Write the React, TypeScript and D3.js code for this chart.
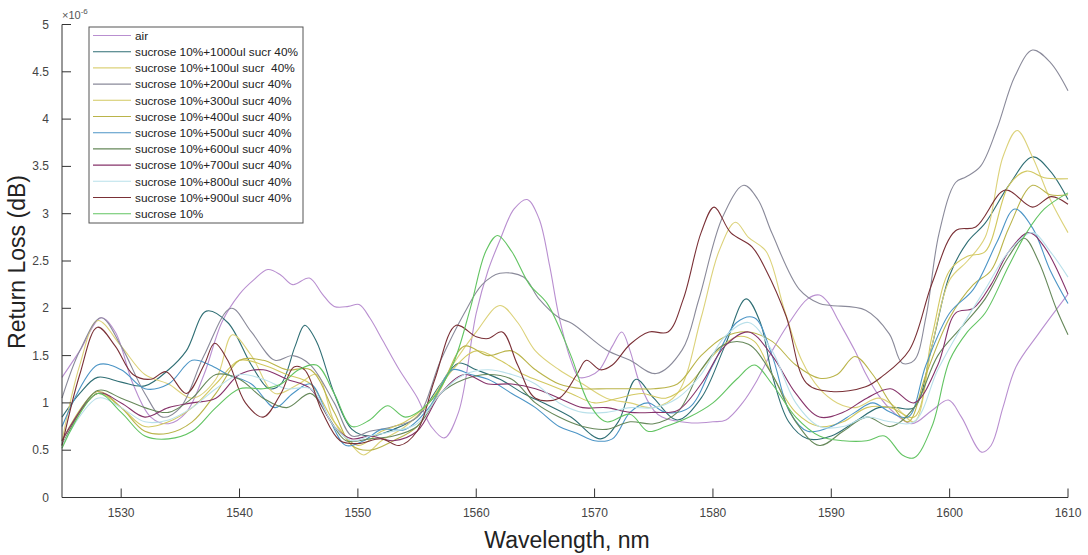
import React from "react";
import * as d3 from "d3";

type P = [number, number];

const air: P[] = [[1525,1.27],[1526.5,1.55],[1528.3,1.9],[1529.5,1.75],[1531,1.2],[1532.5,0.85],[1534,0.78],[1535.5,0.9],[1537,1.3],[1538.5,1.85],[1540,2.15],[1541.2,2.3],[1542.4,2.41],[1543.5,2.35],[1544.5,2.25],[1545.9,2.32],[1547,2.15],[1548,2.02],[1549.2,2.02],[1550.1,2.04],[1551,1.9],[1552.1,1.66],[1553.5,1.35],[1555,1.06],[1556.2,0.75],[1557.3,0.63],[1558.5,0.9],[1560,1.95],[1561,2.4],[1562,2.72],[1563.2,3.05],[1564.3,3.15],[1565.3,2.95],[1566.2,2.45],[1567,1.91],[1568,1.45],[1568.7,1.27],[1569.5,1.28],[1570.4,1.35],[1571.5,1.6],[1572.3,1.75],[1573,1.55],[1573.8,1.21],[1575,0.92],[1575.7,0.85],[1578,0.79],[1580,0.8],[1581.1,0.82],[1582.5,1.0],[1583.6,1.21],[1585,1.55],[1586.4,1.84],[1588,2.1],[1589,2.14],[1589.8,2.05],[1590.6,1.87],[1592,1.55],[1592.9,1.31],[1594,1.08],[1595.1,0.92],[1596.8,0.78],[1598.5,0.92],[1599.9,1.03],[1601,0.85],[1602.7,0.48],[1603.5,0.55],[1604.5,0.95],[1605.6,1.38],[1607.5,1.73],[1610,2.15]];

const s1000: P[] = [[1525,0.85],[1526.5,1.1],[1528,1.27],[1530,1.22],[1532,1.18],[1534,1.35],[1535.5,1.55],[1537.2,1.97],[1539,1.85],[1541,1.4],[1542.5,1.15],[1543.5,1.2],[1544.7,1.6],[1545.5,1.82],[1546.5,1.65],[1548,1.1],[1549.5,0.72],[1551,0.65],[1553,0.72],[1555,0.85],[1557,1.2],[1558.5,1.42],[1560,1.35],[1562,1.25],[1564,1.1],[1566,0.98],[1568,0.85],[1570.5,0.62],[1572,0.8],[1573.5,1.25],[1575,1.05],[1577,0.82],[1579,1.05],[1581,1.6],[1582.8,2.1],[1584,1.85],[1585,1.3],[1586.4,0.8],[1588,0.62],[1590,0.65],[1592,0.8],[1594,0.95],[1595.5,0.95],[1597,0.95],[1598.5,1.6],[1600,2.35],[1601.5,2.7],[1603,2.9],[1605,3.3],[1607,3.6],[1608.5,3.45],[1610,3.15]];

const s100: P[] = [[1525,0.6],[1526.5,1.4],[1528,1.87],[1530,1.6],[1532,1.3],[1534,1.2],[1536,1.05],[1538,1.25],[1539.4,1.72],[1541,1.5],[1543,1.1],[1545,1.2],[1546.5,1.3],[1548,0.8],[1549.5,0.55],[1550.5,0.45],[1552,0.6],[1554,0.75],[1556,1.0],[1558,1.4],[1560,1.75],[1562,2.03],[1563.5,1.85],[1565,1.55],[1567,1.35],[1569,1.2],[1571,1.05],[1573,1.0],[1575,0.95],[1577,1.1],[1579,1.9],[1580.5,2.6],[1581.9,2.91],[1583,2.75],[1584.5,2.6],[1586,2.0],[1587.5,1.45],[1589,1.15],[1590.5,1.0],[1592,0.95],[1594,1.05],[1595.5,0.95],[1597,0.8],[1598.5,1.6],[1600,2.3],[1601.5,2.5],[1603,2.75],[1604.5,3.6],[1605.7,3.88],[1607,3.6],[1608.5,3.15],[1610,2.8]];

const s200: P[] = [[1525,1.05],[1526.5,1.55],[1528.3,1.9],[1530,1.6],[1532,1.1],[1533.5,0.85],[1535,0.95],[1537,1.5],[1539.3,2.0],[1541,1.75],[1543,1.45],[1544.5,1.5],[1546,1.4],[1548,1.0],[1549.5,0.65],[1551,0.7],[1553,0.75],[1555,0.85],[1557,1.45],[1559,1.95],[1560.5,2.25],[1562,2.37],[1564,2.33],[1565.3,2.1],[1567,1.9],[1568.1,1.84],[1571,1.56],[1573,1.45],[1575.2,1.31],[1577.4,1.56],[1578.8,2.09],[1580.8,2.96],[1582.6,3.3],[1583.8,3.15],[1585,2.79],[1587.3,2.2],[1589,2.05],[1590,2.03],[1592.9,1.98],[1594.9,1.73],[1596,1.42],[1597,1.45],[1598,1.91],[1599.1,2.79],[1600.5,3.33],[1601.4,3.39],[1602.6,3.5],[1604,3.9],[1605.5,4.45],[1607,4.73],[1608.5,4.6],[1610,4.3]];

const s300: P[] = [[1525,0.55],[1528,1.1],[1530,0.95],[1532,0.75],[1534,0.8],[1536,0.95],[1538,1.2],[1540,1.45],[1542,1.4],[1544,1.3],[1546,1.2],[1548,0.8],[1550,0.55],[1552,0.7],[1554,0.8],[1556,1.0],[1558,1.35],[1560,1.55],[1562,1.45],[1564,1.3],[1566,1.2],[1568,1.1],[1570,1.0],[1572,1.05],[1574,1.1],[1576,1.05],[1578,1.2],[1580,1.5],[1582,1.7],[1583.5,1.65],[1585,1.3],[1587,0.9],[1589,0.75],[1591,0.8],[1593,0.95],[1595,0.95],[1597,0.85],[1598.5,1.7],[1600,2.4],[1601.5,2.55],[1603,2.6],[1605,3.3],[1606.5,3.45],[1608,3.38],[1610,3.37]];

const s400: P[] = [[1525,0.6],[1528,1.12],[1530,0.95],[1532,0.7],[1534,0.68],[1536,0.8],[1538,1.1],[1540,1.45],[1542,1.45],[1544,1.35],[1546,1.35],[1548,0.9],[1549.5,0.55],[1551,0.5],[1553,0.6],[1555,0.75],[1557,1.15],[1559,1.6],[1561,1.5],[1563,1.55],[1565,1.35],[1567,1.2],[1569,1.15],[1571,1.15],[1573,1.15],[1575,1.15],[1577,1.2],[1579,1.5],[1581,1.7],[1583,1.75],[1585,1.65],[1587,1.4],[1589,1.26],[1590.5,1.3],[1592,1.49],[1593.5,1.3],[1595,1.0],[1596.5,0.8],[1598,1.3],[1600,1.9],[1602,2.25],[1603.5,2.4],[1605,2.85],[1607,3.3],[1608.5,3.2],[1610,3.2]];

const s500: P[] = [[1525,0.75],[1528,1.4],[1530,1.35],[1532,1.15],[1534,1.2],[1536,1.45],[1537.5,1.4],[1539,1.3],[1541,1.2],[1543,0.95],[1544.5,1.1],[1546,1.2],[1547.5,0.85],[1549,0.55],[1550.5,0.6],[1552,0.72],[1554,0.72],[1556,0.95],[1558,1.35],[1559.5,1.3],[1561,1.25],[1563,1.1],[1565,0.95],[1567,0.75],[1568.5,0.68],[1570,0.6],[1571.5,0.62],[1573,0.9],[1574.5,1.0],[1576,0.9],[1578,0.95],[1580,1.4],[1582,1.85],[1583.5,1.9],[1585,1.5],[1586.5,0.9],[1588,0.7],[1590,0.75],[1592,0.9],[1593.5,1.0],[1595,0.9],[1596.5,0.85],[1598,1.4],[1600,1.95],[1602,2.2],[1604,2.7],[1605.5,3.05],[1607,2.85],[1608.5,2.4],[1610,2.05]];

const s600: P[] = [[1525,0.55],[1528,1.13],[1530,1.05],[1532,0.95],[1534,0.9],[1536,1.05],[1538,1.3],[1540,1.25],[1542,1.05],[1544,0.95],[1546,1.1],[1547.5,0.85],[1549,0.6],[1551,0.62],[1553,0.65],[1555,0.75],[1557,1.1],[1559,1.25],[1561,1.3],[1563,1.25],[1565,1.0],[1567,0.85],[1569,0.75],[1571,0.72],[1573,0.8],[1575,0.78],[1577,0.9],[1579,1.35],[1581,1.62],[1583,1.62],[1585,1.3],[1587,0.8],[1589,0.55],[1591,0.7],[1593,0.85],[1595,0.75],[1597,0.95],[1599,1.5],[1601,1.8],[1603,2.1],[1605,2.55],[1606.3,2.74],[1607.5,2.5],[1609,2.0],[1610,1.72]];

const s700: P[] = [[1525,0.6],[1528,1.1],[1530,1.0],[1532,0.85],[1534,0.95],[1536,1.0],[1538,1.05],[1540,1.3],[1542,1.35],[1544,1.25],[1546,1.15],[1548,0.75],[1549.5,0.62],[1551,0.65],[1553,0.6],[1555,0.7],[1557,1.1],[1559,1.3],[1561,1.2],[1563,1.2],[1565,1.15],[1567,1.05],[1569,0.95],[1571,0.95],[1573,0.9],[1575,0.9],[1577,0.92],[1579,1.2],[1581,1.6],[1583,1.75],[1585,1.5],[1587,1.1],[1589,0.85],[1591,0.9],[1593,1.05],[1595,1.15],[1597,1.0],[1599,1.4],[1600.5,1.95],[1602,2.0],[1603.5,2.25],[1605,2.6],[1606.7,2.8],[1608,2.65],[1610,2.15]];

const s800: P[] = [[1525,0.55],[1528,1.05],[1530,0.95],[1532,0.8],[1534,0.82],[1536,0.95],[1538,1.15],[1540,1.3],[1542,1.25],[1544,1.15],[1546,1.15],[1548,0.75],[1549.5,0.6],[1551,0.65],[1553,0.7],[1555,0.78],[1557,1.1],[1559,1.3],[1561,1.35],[1563,1.3],[1565,1.2],[1567,1.0],[1569,0.9],[1571,0.9],[1573,0.95],[1575,0.95],[1577,1.05],[1579,1.3],[1581,1.7],[1583,1.85],[1585,1.55],[1587,1.0],[1589,0.75],[1591,0.75],[1593,0.85],[1595,0.8],[1597,0.8],[1599,1.35],[1601,1.8],[1603,2.2],[1605,2.6],[1607,2.8],[1608.5,2.6],[1610,2.33]];

const s900: P[] = [[1525,0.55],[1526.5,1.3],[1528,1.8],[1529.5,1.6],[1531,1.3],[1532.5,1.25],[1533.8,1.33],[1535.5,1.1],[1537,1.4],[1537.9,1.63],[1539,1.45],[1540.5,1.0],[1542,0.85],[1543.5,1.1],[1544.6,1.38],[1545.5,1.35],[1547,0.9],[1548.5,0.6],[1550,0.57],[1552,0.62],[1553.5,0.55],[1555,0.7],[1556.5,1.25],[1558.3,1.82],[1560,1.7],[1561,1.68],[1562.2,1.75],[1563.5,1.4],[1565,1.05],[1567,1.05],[1568.5,1.3],[1569.3,1.45],[1570.5,1.35],[1571.5,1.4],[1573,1.62],[1574.6,1.75],[1576.2,1.75],[1577.5,2.1],[1579,2.8],[1580.1,3.07],[1581.5,2.8],[1583.3,2.65],[1584.5,2.4],[1586.2,1.91],[1587.9,1.21],[1590,1.12],[1592.9,1.17],[1594.3,1.28],[1596.6,1.56],[1598.5,2.26],[1600.5,2.82],[1602.2,2.86],[1604.7,3.25],[1607,3.07],[1608.6,3.18],[1610,3.1]];

const s10: P[] = [[1525,0.52],[1528,1.1],[1530,0.9],[1532,0.65],[1534,0.62],[1536,0.7],[1538,0.95],[1540,1.15],[1542,1.15],[1543.5,1.2],[1545,1.35],[1546.5,1.4],[1548,1.1],[1549.5,0.75],[1551,0.82],[1552.5,0.97],[1554,0.85],[1556,1.0],[1558,1.4],[1559.5,2.0],[1560.8,2.6],[1561.8,2.77],[1563,2.6],[1564.5,2.25],[1566,2.05],[1568,1.5],[1569.5,1.0],[1571,0.8],[1573,0.88],[1574.5,0.7],[1576,0.75],[1578,0.85],[1580,1.0],[1582,1.25],[1583.5,1.4],[1585,1.2],[1587,0.85],[1589,0.65],[1591,0.6],[1593,0.6],[1594.5,0.65],[1596,0.45],[1597,0.42],[1598.5,0.75],[1600,1.45],[1601.5,1.75],[1603,1.95],[1605,2.45],[1606.5,2.8],[1608,3.05],[1610,3.22]];

const seriesNames = [
  "air",
  "sucrose 10%+1000ul sucr 40%",
  "sucrose 10%+100ul sucr  40%",
  "sucrose 10%+200ul sucr 40%",
  "sucrose 10%+300ul sucr 40%",
  "sucrose 10%+400ul sucr 40%",
  "sucrose 10%+500ul sucr 40%",
  "sucrose 10%+600ul sucr 40%",
  "sucrose 10%+700ul sucr 40%",
  "sucrose 10%+800ul sucr 40%",
  "sucrose 10%+900ul sucr 40%",
  "sucrose 10%",
];
const seriesData = [air, s1000, s100, s200, s300, s400, s500, s600, s700, s800, s900, s10];
const seriesColors = ["#b98fd0", "#2f6e74", "#dcd27a", "#8a8a9a", "#d2c860", "#bab44a", "#4c95c6", "#66885a", "#86336a", "#b9e0ea", "#7a3036", "#62c462"];

const xTicks = [1530, 1540, 1550, 1560, 1570, 1580, 1590, 1600, 1610];
const yTicks = [0, 0.5, 1, 1.5, 2, 2.5, 3, 3.5, 4, 4.5, 5];

export default function App() {
  const W = 1088, H = 555;
  const left = 62, right = 1068, top = 24.5, bottom = 497.5;
  const x = d3.scaleLinear().domain([1525, 1610]).range([left, right]);
  const y = d3.scaleLinear().domain([0, 5]).range([bottom, top]);
  const line = d3.line<P>().x(d => x(d[0])).y(d => y(d[1])).curve(d3.curveCatmullRom.alpha(0.5));
  const font = "'Liberation Sans', Arial, Helvetica, sans-serif";
  const lg = { x0: 89, y0: 27, w: 214, h: 196, row: 16.2 };
  return (
    <svg width={W} height={H} style={{ position: "absolute", left: 0, top: 0, background: "#fff" }} fontFamily={font}>
      <rect x={0} y={0} width={W} height={H} fill="#fff" />
      {seriesData.map((d, i) => (
        <path key={i} d={line(d) || ""} fill="none" stroke={seriesColors[i]} strokeWidth={1.1} />
      ))}
      <line x1={left} y1={bottom} x2={right} y2={bottom} stroke="#333" strokeWidth={1} />
      <line x1={left} y1={bottom} x2={left} y2={top} stroke="#333" strokeWidth={1} />
      {xTicks.map(t => (
        <g key={t}>
          <line x1={x(t)} x2={x(t)} y1={bottom} y2={bottom - 9} stroke="#333" />
          <text x={x(t)} y={517} textAnchor="middle" fontSize={12} fill="#444">{t}</text>
        </g>
      ))}
      {yTicks.map(t => (
        <g key={t}>
          <line x1={left} x2={left + 9} y1={y(t)} y2={y(t)} stroke="#333" />
          <text x={49} y={y(t) + 4} textAnchor="end" fontSize={12} fill="#444">{t}</text>
        </g>
      ))}
      <text x={left} y={19} fontSize={11} fill="#555">×10<tspan dy={-5} fontSize={8}>-6</tspan></text>
      <text x={567} y={548} textAnchor="middle" fontSize={23} fill="#222">Wavelength, nm</text>
      <text transform={`translate(25,262) rotate(-90)`} textAnchor="middle" fontSize={23} fill="#222">Return Loss (dB)</text>
      <rect x={lg.x0} y={lg.y0} width={lg.w} height={lg.h} fill="#fff" stroke="#555" strokeWidth={1} />
      {seriesNames.map((n, i) => (
        <g key={n}>
          <line x1={93} x2={131} y1={lg.y0 + 8.5 + i * lg.row} y2={lg.y0 + 8.5 + i * lg.row} stroke={seriesColors[i]} strokeWidth={1.1} />
          <text x={135} y={lg.y0 + 12.8 + i * lg.row} fontSize={11.8} fill="#222" style={{ whiteSpace: "pre" }}>{n}</text>
        </g>
      ))}
    </svg>
  );
}
